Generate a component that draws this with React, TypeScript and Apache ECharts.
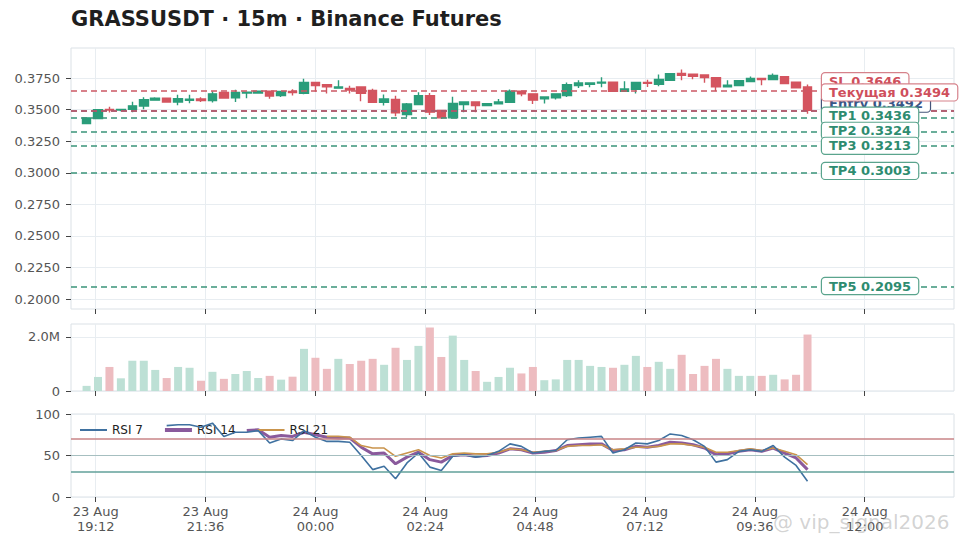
import React, { useEffect, useRef } from "react";
import * as echarts from "echarts";

const TITLE = "GRASSUSDT · 15m · Binance Futures";
const FONT = '"DejaVu Sans", "Noto Sans", sans-serif';

// time axis in minutes counted from 23 Aug 00:00
const START_MIN = 19 * 60; // first candle 23 Aug 19:00
const STEP_MIN = 15;
const X_MIN = 1119.6;
const X_MAX = 2277;
const X_TICKS = [1152, 1296, 1440, 1584, 1728, 1872, 2016, 2160];

const PRICE_TICKS = [0.2, 0.225, 0.25, 0.275, 0.3, 0.325, 0.35, 0.375];
const VOL_TICKS = [0, 2000000];
const RSI_TICKS = [0, 50, 100];

const opens = [
  0.3389, 0.343, 0.3502, 0.3497, 0.3502, 0.3528, 0.3575, 0.359, 0.356, 0.3573,
  0.3585, 0.3572, 0.3635, 0.3594, 0.3632, 0.3632, 0.3646, 0.3612, 0.3643, 0.363,
  0.3715, 0.3697, 0.367, 0.3668, 0.368, 0.3652, 0.3558, 0.358, 0.346, 0.354,
  0.361, 0.3494, 0.3435, 0.354, 0.3561, 0.3532, 0.3546, 0.3558, 0.3645, 0.3625,
  0.3586, 0.3594, 0.3611, 0.369, 0.37, 0.3711, 0.3717, 0.3646, 0.366, 0.3716,
  0.37, 0.3733, 0.3786, 0.378, 0.3775, 0.3752, 0.368, 0.369, 0.3722, 0.3746,
  0.3738, 0.376, 0.3717, 0.368,
];
const closes = [
  0.3435, 0.35, 0.3497, 0.3502, 0.353, 0.3578, 0.359, 0.356, 0.3587, 0.3583,
  0.3572, 0.3625, 0.3592, 0.3635, 0.3637, 0.3645, 0.3608, 0.3643, 0.3636, 0.3715,
  0.369, 0.3681, 0.368, 0.3655, 0.363, 0.3558, 0.3585, 0.3474, 0.3545, 0.361,
  0.348, 0.3435, 0.3548, 0.356, 0.3533, 0.3547, 0.356, 0.3645, 0.3626, 0.3575,
  0.36, 0.3625, 0.3698, 0.3711, 0.3711, 0.3717, 0.3646, 0.3664, 0.3716, 0.3708,
  0.3738, 0.3785, 0.3771, 0.3763, 0.3754, 0.368, 0.3693, 0.373, 0.3746, 0.3738,
  0.377, 0.3706, 0.3672, 0.3494,
];
const lows = [
  0.3385, 0.3425, 0.3478, 0.3487, 0.348, 0.3502, 0.357, 0.3558, 0.3535, 0.355,
  0.356, 0.3556, 0.3586, 0.356, 0.359, 0.3628, 0.3586, 0.36, 0.3612, 0.3622,
  0.3641, 0.3628, 0.3668, 0.3628, 0.3566, 0.3553, 0.3532, 0.3447, 0.3442, 0.3535,
  0.3458, 0.3426, 0.3432, 0.3479, 0.348, 0.353, 0.3544, 0.3555, 0.3606, 0.3545,
  0.3548, 0.358, 0.36, 0.3672, 0.3677, 0.3677, 0.3644, 0.3644, 0.3627, 0.368,
  0.3685, 0.373, 0.3733, 0.374, 0.3712, 0.3645, 0.3678, 0.3686, 0.372, 0.3693,
  0.3735, 0.3704, 0.367, 0.3468,
];
const highs = [
  0.344, 0.3505, 0.3522, 0.3504, 0.3562, 0.3598, 0.3598, 0.3591, 0.3618, 0.3618,
  0.3598, 0.3645, 0.3637, 0.3657, 0.364, 0.3647, 0.3648, 0.3645, 0.3662, 0.3745,
  0.3717, 0.3699, 0.3732, 0.369, 0.3682, 0.3665, 0.362, 0.361, 0.3553, 0.3637,
  0.3632, 0.3496, 0.3601, 0.3562, 0.3562, 0.3549, 0.3585, 0.366, 0.3647, 0.3627,
  0.3602, 0.3628, 0.3714, 0.3733, 0.3713, 0.3756, 0.3719, 0.3725, 0.3718, 0.3737,
  0.3778, 0.379, 0.3818, 0.3782, 0.3777, 0.3754, 0.3733, 0.3734, 0.3762, 0.3749,
  0.3786, 0.3762, 0.3719, 0.3698,
];
const volumes = [
  0.19, 0.52, 0.89, 0.47, 1.12, 1.12, 0.78, 0.48, 0.89, 0.86,
  0.38, 0.71, 0.45, 0.63, 0.74, 0.48, 0.56, 0.42, 0.53, 1.56,
  1.23, 0.82, 1.19, 1.0, 1.12, 1.19, 0.97, 1.6, 1.15, 1.67,
  2.35, 1.26, 2.05, 1.15, 0.74, 0.34, 0.52, 0.86, 0.65, 0.89,
  0.4, 0.43, 1.15, 1.15, 0.93, 0.89, 0.86, 0.97, 1.3, 0.89,
  1.08, 0.82, 1.34, 0.63, 0.93, 1.19, 0.82, 0.56, 0.56, 0.56,
  0.6, 0.43, 0.6, 2.09,
].map((v) => v * 1000000);

const rsi7 = [
  null, null, null, null, null, null, null, 86, 87, 87,
  84, 89, 73, 78, 78, 80, 65, 70, 68, 80,
  72, 67, 67, 66, 50, 33, 37, 22, 41, 53,
  36, 32, 49, 51, 48, 50, 55, 64, 61, 53,
  55, 56, 69, 71, 72, 73, 53, 57, 65, 64,
  68, 76, 74, 69, 61, 42, 45, 55, 57, 55,
  62, 48, 38, 19,
];
const rsi14 = [
  null, null, null, null, null, null, null, null, null, null,
  null, null, null, null, 80, 81, 72, 74, 73, 78,
  75, 72, 71, 71, 60, 52, 53, 40, 48, 54,
  45, 42, 50, 51, 49, 50, 53, 58, 57, 53,
  54, 56, 62, 63, 64, 64, 56, 57, 61, 60,
  62, 66, 65, 63, 59, 51, 52, 55, 57, 55,
  59, 53, 47, 33,
];
const rsi21 = [
  null, null, null, null, null, null, null, null, null, null,
  null, null, null, null, null, null, null, null, null, null,
  null, 73, 73, 72, 62, 59, 59, 49, 53, 57,
  50, 47, 52, 53, 52, 52, 54, 58, 57, 54,
  55, 56, 61, 62, 62, 63, 57, 58, 60, 60,
  61, 64, 64, 62, 60, 54, 54, 56, 58, 56,
  59, 55, 51, 39,
];

const levelNames = ["SL", "Текущая", "Entry", "TP1", "TP2", "TP3", "TP4", "TP5"];
const levelValues = [0.3646, 0.3494, 0.3492, 0.3436, 0.3324, 0.3213, 0.3003, 0.2095];

const GREEN = "#2a9d7a";
const RED = "#d4545f";
const NAVY = "#3a5686";

function levelKind(name: string) {
  if (name === "SL" || name === "Текущая") return "red";
  if (name === "Entry") return "navy";
  return "green";
}
const KIND_TEXT: Record<string, string> = { red: "#cf4f5c", navy: NAVY, green: "#2e8c70" };
const KIND_BORDER: Record<string, string> = { red: "#d6828b", navy: "#44557a", green: "#5aa48d" };
const KIND_LINE: Record<string, string> = { red: "#cc5864", navy: NAVY, green: "#3a9479" };

function pad(n: number) {
  return n < 10 ? "0" + n : "" + n;
}

export default function App() {
  const ref = useRef<HTMLDivElement>(null);

  useEffect(() => {
    const el = ref.current!;
    const chart = echarts.init(el, null, { renderer: "svg" });
    const xs = opens.map((_, i) => START_MIN + STEP_MIN * i);
    const up = opens.map((o, i) => closes[i] >= o);

    const candleData = xs.map((x, i) => [x, opens[i], closes[i], lows[i], highs[i]]);
    const volData = xs.map((x, i) => ({
      value: [x, volumes[i]],
      itemStyle: { color: up[i] ? "#bde0d5" : "#edbcc0" },
    }));
    const toLine = (arr: (number | null)[]) =>
      xs.map((x, i) => (arr[i] == null ? null : [x, arr[i]])).filter((d) => d !== null);

    const gridBase = {
      left: 71,
      right: 17,
      show: true,
      borderColor: "#dbe1e6",
      borderWidth: 1,
      backgroundColor: "#ffffff",
    };

    const splitColor = "#e8edf1";
    const tickStyle = { show: true, length: 5, lineStyle: { color: "#444", width: 1 } };

    const xAxisFor = (g: number) => ({
      type: "value",
      gridIndex: g,
      min: X_MIN,
      max: X_MAX,
      interval: 144,
      axisLine: { show: false },
      axisTick: { ...tickStyle, customValues: X_TICKS },
      splitLine: { show: true, lineStyle: { color: splitColor, width: 1 } },
      axisLabel: {
        show: g === 2,
        customValues: X_TICKS,
        color: "#555",
        fontSize: 13,
        fontFamily: FONT,
        lineHeight: 15,
        margin: 7,
        formatter: (v: number) => {
          const r = Math.round(v);
          if (X_TICKS.indexOf(r) < 0) return "";
          const day = 23 + Math.floor(r / 1440);
          const m = r % 1440;
          return `${day} Aug\n${pad(Math.floor(m / 60))}:${pad(m % 60)}`;
        },
      },
    });

    const yLabel = {
      color: "#555",
      fontSize: 13,
      fontFamily: FONT,
      margin: 11,
    };

    const legendIcon = (h: number) => `path://M0,0H27V${h}H0Z`;

    // draw order of the level lines: the current price line goes on top
    const lineOrder = [0, 2, 3, 4, 5, 6, 7, 1];

    const option: any = {
      animation: false,
      backgroundColor: "#ffffff",
      textStyle: { fontFamily: FONT },
      title: {
        text: TITLE,
        left: 71,
        top: 8,
        padding: 0,
        textStyle: { fontSize: 21, fontWeight: "bold", color: "#1f1f1f", fontFamily: FONT },
      },
      legend: {
        data: [
          { name: "RSI 7", icon: legendIcon(2) },
          { name: "RSI 14", icon: legendIcon(4) },
          { name: "RSI 21", icon: legendIcon(2) },
        ],
        left: 80,
        top: 424,
        itemWidth: 27,
        itemHeight: 12,
        itemGap: 22,
        padding: 0,
        symbolKeepAspect: true,
        textStyle: { fontSize: 12, color: "#222", fontFamily: FONT },
      },
      grid: [
        { ...gridBase, top: 48, height: 261 },
        { ...gridBase, top: 324, height: 67 },
        { ...gridBase, top: 414, height: 83 },
      ],
      xAxis: [xAxisFor(0), xAxisFor(1), xAxisFor(2)],
      yAxis: [
        {
          type: "value",
          gridIndex: 0,
          min: 0.1921,
          max: 0.3988,
          interval: 0.025,
          axisLine: { show: false },
          axisTick: { ...tickStyle, customValues: PRICE_TICKS },
          splitLine: { show: true, lineStyle: { color: splitColor } },
          axisLabel: {
            ...yLabel,
            customValues: PRICE_TICKS,
            formatter: (v: number) => v.toFixed(4),
          },
        },
        {
          type: "value",
          gridIndex: 1,
          min: 0,
          max: 2480000,
          interval: 2000000,
          axisLine: { show: false },
          axisTick: { ...tickStyle, customValues: VOL_TICKS },
          splitLine: { show: true, lineStyle: { color: splitColor } },
          axisLabel: {
            ...yLabel,
            customValues: VOL_TICKS,
            formatter: (v: number) => (v === 0 ? "0" : (v / 1000000).toFixed(1) + "M"),
          },
        },
        {
          type: "value",
          gridIndex: 2,
          min: 0,
          max: 100,
          interval: 50,
          axisLine: { show: false },
          axisTick: { ...tickStyle, customValues: RSI_TICKS },
          splitLine: { show: true, lineStyle: { color: splitColor } },
          axisLabel: { ...yLabel, customValues: RSI_TICKS },
        },
      ],
      series: [
        {
          name: "Price",
          type: "candlestick",
          xAxisIndex: 0,
          yAxisIndex: 0,
          barWidth: 9,
          encode: { x: 0, y: [1, 2, 3, 4] },
          data: candleData,
          itemStyle: {
            color: GREEN,
            color0: RED,
            borderColor: GREEN,
            borderColor0: RED,
            borderWidth: 1.4,
          },
          markLine: {
            silent: true,
            precision: 4,
            symbol: ["none", "none"],
            label: { show: false },
            animation: false,
            data: lineOrder.map((i) => ({
              yAxis: levelValues[i],
              lineStyle: {
                color: KIND_LINE[levelKind(levelNames[i])],
                width: 1.6,
                type: [6, 4],
                opacity: 1,
              },
            })),
          },
          z: 3,
        },
        {
          name: "Volume",
          type: "bar",
          xAxisIndex: 1,
          yAxisIndex: 1,
          barWidth: 8,
          data: volData,
        },
        {
          name: "RSI 7",
          type: "line",
          xAxisIndex: 2,
          yAxisIndex: 2,
          symbol: "none",
          data: toLine(rsi7),
          lineStyle: { color: "#3f71a0", width: 1.6 },
          itemStyle: { color: "#3f71a0" },
          z: 4,
          markLine: {
            silent: true,
            precision: 2,
            symbol: ["none", "none"],
            label: { show: false },
            data: [
              { yAxis: 70, lineStyle: { color: "#c98587", width: 1.5, type: "solid" } },
              { yAxis: 50, lineStyle: { color: "#a6bfc0", width: 1.2, type: "solid" } },
              { yAxis: 30, lineStyle: { color: "#62a09a", width: 1.5, type: "solid" } },
            ],
          },
        },
        {
          name: "RSI 14",
          type: "line",
          xAxisIndex: 2,
          yAxisIndex: 2,
          symbol: "none",
          data: toLine(rsi14),
          lineStyle: { color: "#8a5a9c", width: 3 },
          itemStyle: { color: "#8a5a9c" },
          z: 3,
        },
        {
          name: "RSI 21",
          type: "line",
          xAxisIndex: 2,
          yAxisIndex: 2,
          symbol: "none",
          data: toLine(rsi21),
          lineStyle: { color: "#c9944c", width: 1.6 },
          itemStyle: { color: "#c9944c" },
          z: 3,
        },
      ],
    };

    chart.setOption(option);

    const labelDy = [-10, -18, -7, -2, -1, 0, -1.5, -1];
    const labels: any[] = lineOrder.map((i, k) => {
      const py = chart.convertToPixel({ yAxisIndex: 0 }, levelValues[i]) as number;
      const kind = levelKind(levelNames[i]);
      return {
        type: "text",
        z: 100 + k,
        x: 822,
        y: py + labelDy[i],
        style: {
          text: `${levelNames[i]} ${levelValues[i].toFixed(4)}`,
          fill: KIND_TEXT[kind],
          font: `bold 13px ${FONT}`,
          align: "left",
          verticalAlign: "middle",
          backgroundColor: "#ffffff",
          borderColor: KIND_BORDER[kind],
          borderWidth: 1.2,
          borderRadius: 3,
          padding: [2, 7, 1, 7],
        },
      };
    });
    labels.push({
      type: "text",
      z: 200,
      x: 773,
      y: 522,
      style: {
        text: "@ vip_signal2026",
        fill: "rgba(150,150,150,0.42)",
        font: `20px ${FONT}`,
        align: "left",
        verticalAlign: "middle",
      },
    });
    chart.setOption({ graphic: labels });

    return () => {
      chart.dispose();
    };
  }, []);

  return (
    <div
      ref={ref}
      style={{ position: "absolute", left: 0, top: 0, width: 971, height: 548, background: "#fff" }}
    />
  );
}
